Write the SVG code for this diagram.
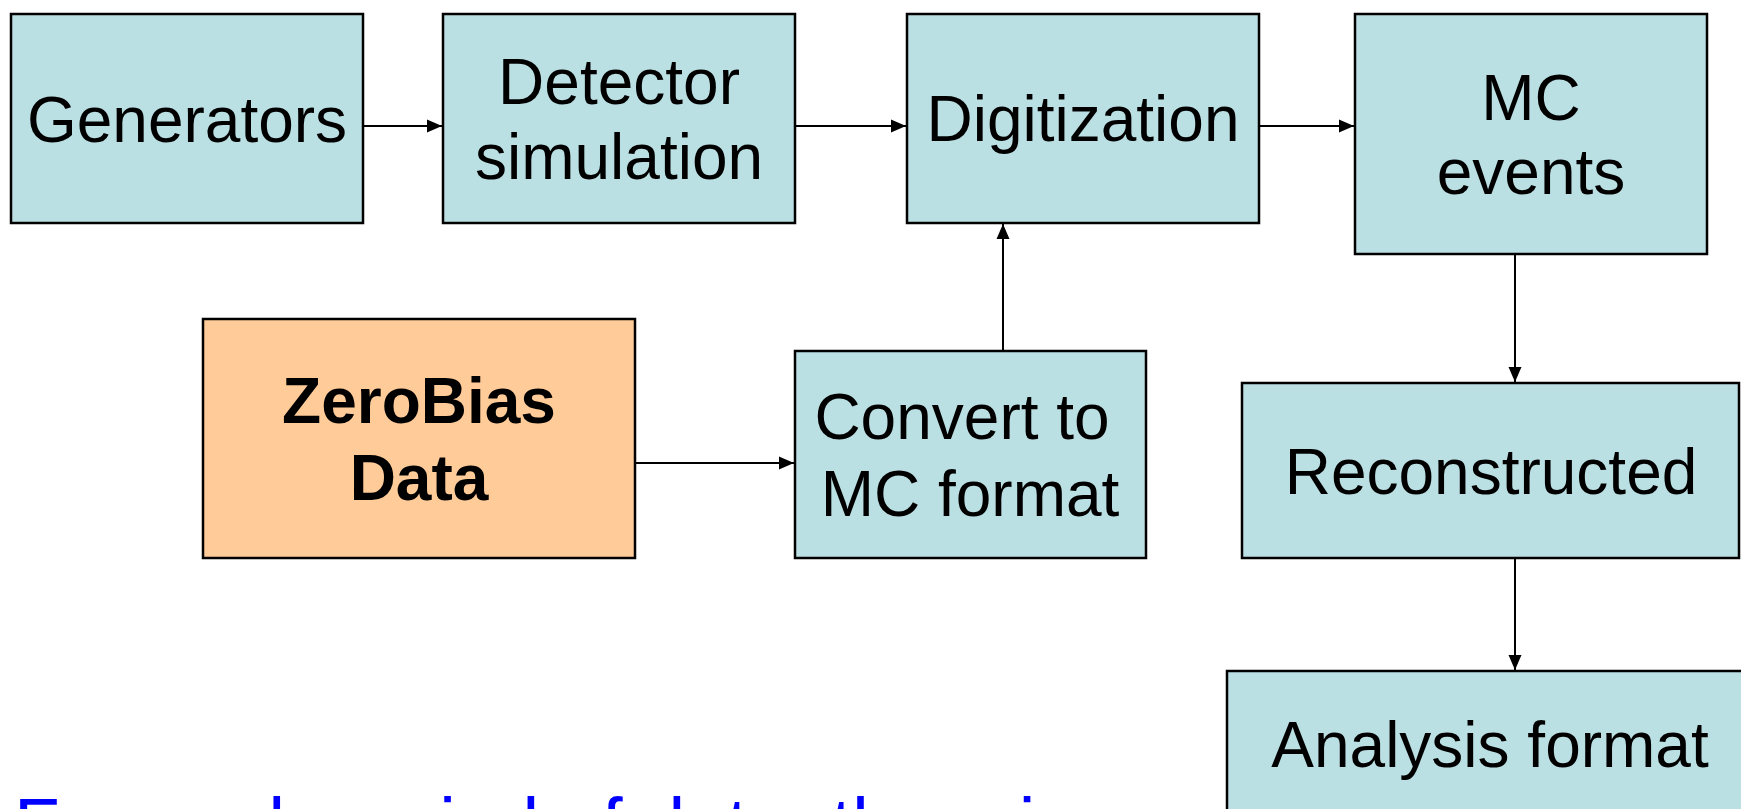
<svg xmlns="http://www.w3.org/2000/svg" width="1741" height="809" viewBox="0 0 1741 809">
  <style>
    .box { fill: #BBE0E3; stroke: #000; stroke-width: 2.5; }
    .orange { fill: #FFCC99; stroke: #000; stroke-width: 2.5; }
    .lbl { font-family: "Liberation Sans", Arial, sans-serif; font-size: 64px; fill: #000; text-anchor: middle; }
    .bold { font-weight: bold; }
    .conn { stroke: #000; stroke-width: 2; fill: none; marker-end: url(#arrow); }
    .note { font-family: "Liberation Sans", Arial, sans-serif; font-size: 75px; fill: #0000FF; }
  </style>
  <defs>
    <marker id="arrow" markerUnits="userSpaceOnUse" markerWidth="16" markerHeight="14" refX="15" refY="7" orient="auto">
      <path d="M0,0.5 L15,7 L0,13.5 z" fill="#000"/>
    </marker>
  </defs>
  <rect width="1741" height="809" fill="#fff"/>

  <g id="connectors">
    <line class="conn" x1="363" y1="126" x2="442" y2="126"/>
    <line class="conn" x1="795" y1="126" x2="906" y2="126"/>
    <line class="conn" x1="1259" y1="126" x2="1354" y2="126"/>
    <line class="conn" x1="1003" y1="351" x2="1003" y2="224"/>
    <line class="conn" x1="635" y1="463" x2="794" y2="463"/>
    <line class="conn" x1="1515" y1="254" x2="1515" y2="382"/>
    <line class="conn" x1="1515" y1="558" x2="1515" y2="670"/>
  </g>

  <g id="generators">
    <rect class="box" x="11" y="14" width="352" height="209"/>
    <text class="lbl" x="187" y="142">Generators</text>
  </g>
  <g id="detector-simulation">
    <rect class="box" x="443" y="14" width="352" height="209"/>
    <text class="lbl" x="619" y="104">Detector</text>
    <text class="lbl" x="619" y="179">simulation</text>
  </g>
  <g id="digitization">
    <rect class="box" x="907" y="14" width="352" height="209"/>
    <text class="lbl" x="1083" y="141">Digitization</text>
  </g>
  <g id="mc-events">
    <rect class="box" x="1355" y="14" width="352" height="240"/>
    <text class="lbl" x="1531" y="120">MC</text>
    <text class="lbl" x="1531" y="194">events</text>
  </g>
  <g id="zerobias-data">
    <rect class="orange" x="203" y="319" width="432" height="239"/>
    <text class="lbl bold" x="419" y="423">ZeroBias</text>
    <text class="lbl bold" x="419" y="500">Data</text>
  </g>
  <g id="convert">
    <rect class="box" x="795" y="351" width="351" height="207"/>
    <text class="lbl" x="962" y="439">Convert to</text>
    <text class="lbl" x="970" y="516">MC format</text>
  </g>
  <g id="reconstructed">
    <rect class="box" x="1242" y="383" width="497" height="175"/>
    <text class="lbl" x="1491" y="494">Reconstructed</text>
  </g>
  <g id="analysis-format">
    <rect class="box" x="1227" y="671" width="530" height="160"/>
    <text class="lbl" x="1490" y="767">Analysis format</text>
  </g>

  <text class="note" x="14" y="850">For each period of data, the mi</text>
</svg>
